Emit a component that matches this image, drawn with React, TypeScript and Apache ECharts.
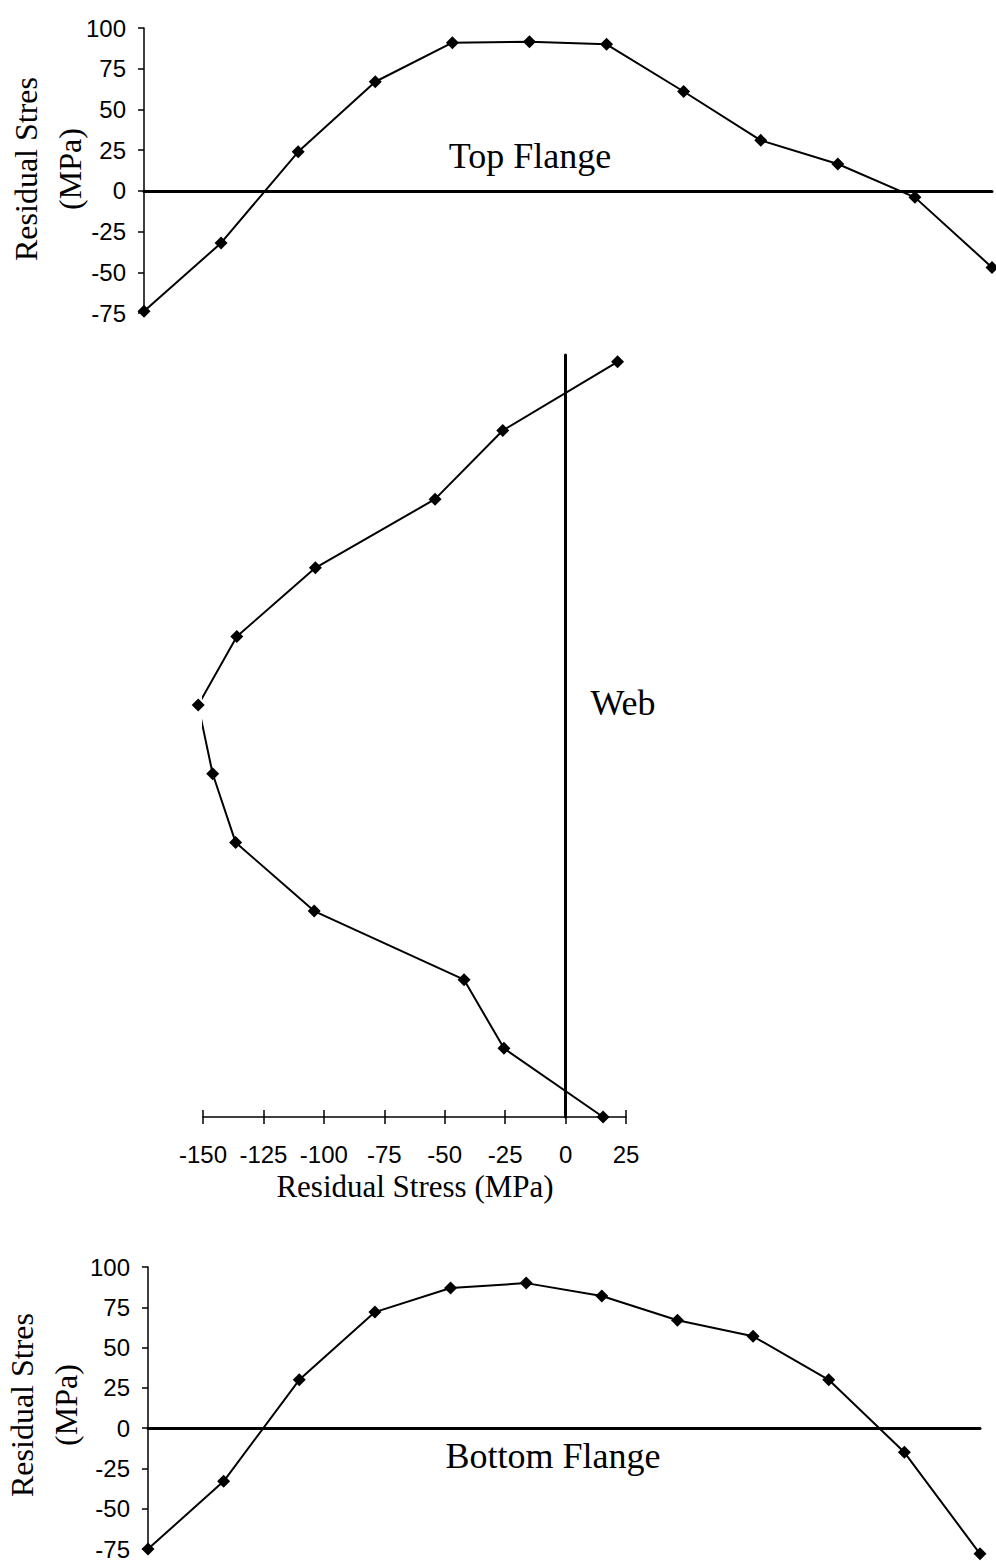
import React, { useEffect, useRef } from "react";
import * as echarts from "echarts";

// Flange measurement positions (evenly spaced across the flange width)
const flangePositions = [0, 1, 2, 3, 4, 5, 6, 7, 8, 9, 10, 11];
// Residual stress (MPa) along the top flange
const topFlangeStress = [-74, -32, 24, 67, 91, 91.5, 90, 61, 31, 16.5, -4, -47];
// Residual stress (MPa) along the bottom flange
const bottomFlangeStress = [-75, -33, 30, 72, 87, 90, 82, 67, 57, 30, -15, -78];
// Web measurement positions (top of web = 11, bottom = 0)
const webDepth = [11, 10, 9, 8, 7, 6, 5, 4, 3, 2, 1, 0];
// Residual stress (MPa) along the web
const webStress = [21.5, -26, -54, -103.5, -136, -152, -146, -136.5, -104, -42, -25.5, 15.5];

const flangeAxisMin = -75;
const flangeAxisMax = 100;
const flangeAxisStep = 25;
const webAxisMin = -150;
const webAxisMax = 25;
const webAxisStep = 25;

const SERIF = "'Liberation Serif', 'Times New Roman', serif";
const SANS = "'Liberation Sans', Arial, sans-serif";

export default function App() {
  const ref = useRef<HTMLDivElement>(null);

  useEffect(() => {
    if (!ref.current) return;
    const chart = echarts.init(ref.current, undefined, { renderer: "svg" });

    const flangeY = (gridIndex: number) => ({
      type: "value" as const,
      gridIndex,
      min: flangeAxisMin,
      max: flangeAxisMax,
      interval: flangeAxisStep,
      axisLine: { show: true, onZero: false, lineStyle: { color: "#000", width: 1.5 } },
      axisTick: { show: true, length: 6, lineStyle: { color: "#000", width: 1.5 } },
      axisLabel: { color: "#000", fontSize: 24, fontFamily: SANS, margin: 18 },
      splitLine: { show: false },
    });

    const flangeX = (gridIndex: number) => ({
      type: "value" as const,
      gridIndex,
      min: 0,
      max: 11,
      axisLine: { show: true, onZero: true, lineStyle: { color: "#000", width: 3 } },
      axisTick: { show: false },
      axisLabel: { show: false },
      splitLine: { show: false },
    });

    const lineStyleCommon = {
      type: "line" as const,
      symbol: "diamond",
      symbolSize: 13,
      clip: false,
      itemStyle: { color: "#000" },
      lineStyle: { color: "#000", width: 2 },
    };

    chart.setOption({
      animation: false,
      backgroundColor: "#fff",
      grid: [
        { left: 144, top: 28, width: 848, height: 285 },
        { left: 203, top: 355, width: 423, height: 762 },
        { left: 148, top: 1267, width: 832, height: 283 },
      ],
      xAxis: [
        flangeX(0),
        {
          type: "value",
          gridIndex: 1,
          position: "bottom",
          min: webAxisMin,
          max: webAxisMax,
          interval: webAxisStep,
          axisLine: { show: true, onZero: false, lineStyle: { color: "#000", width: 1.5 } },
          axisTick: { show: true, length: 7, lineStyle: { color: "#000", width: 1.5 } },
          axisLabel: { color: "#000", fontSize: 24, fontFamily: SANS, margin: 25 },
          splitLine: { show: false },
        },
        {
          type: "value",
          gridIndex: 1,
          position: "bottom",
          min: webAxisMin,
          max: webAxisMax,
          interval: webAxisStep,
          axisLine: { show: false, onZero: false },
          axisTick: { show: true, inside: true, length: 7, lineStyle: { color: "#000", width: 1.5 } },
          axisLabel: { show: false },
          splitLine: { show: false },
        },
        flangeX(2),
      ],
      yAxis: [
        flangeY(0),
        {
          type: "value",
          gridIndex: 1,
          min: 0,
          max: 11.1,
          axisLine: { show: true, onZero: true, lineStyle: { color: "#000", width: 3 } },
          axisTick: { show: false },
          axisLabel: { show: false },
          splitLine: { show: false },
        },
        flangeY(2),
      ],
      series: [
        {
          ...lineStyleCommon,
          name: "Top Flange",
          xAxisIndex: 0,
          yAxisIndex: 0,
          data: flangePositions.map((p, i) => [p, topFlangeStress[i]]),
        },
        {
          ...lineStyleCommon,
          name: "Web",
          xAxisIndex: 1,
          yAxisIndex: 1,
          data: webDepth.map((d, i) => [webStress[i], d]),
        },
        {
          ...lineStyleCommon,
          name: "Bottom Flange",
          xAxisIndex: 3,
          yAxisIndex: 2,
          data: flangePositions.map((p, i) => [p, bottomFlangeStress[i]]),
        },
      ],
      graphic: [
        {
          type: "text",
          x: 530,
          y: 156,
          style: { text: "Top Flange", font: `36px ${SERIF}`, fill: "#000", textAlign: "center", textVerticalAlign: "middle" },
        },
        {
          type: "text",
          x: 623,
          y: 703,
          style: { text: "Web", font: `36px ${SERIF}`, fill: "#000", textAlign: "center", textVerticalAlign: "middle" },
        },
        {
          type: "text",
          x: 553,
          y: 1456,
          style: { text: "Bottom Flange", font: `36px ${SERIF}`, fill: "#000", textAlign: "center", textVerticalAlign: "middle" },
        },
        {
          type: "text",
          x: 415,
          y: 1186,
          style: { text: "Residual Stress (MPa)", font: `31px ${SERIF}`, fill: "#000", textAlign: "center", textVerticalAlign: "middle" },
        },
        {
          type: "text",
          x: 26,
          y: 169,
          rotation: Math.PI / 2,
          style: { text: "Residual Stres", font: `32px ${SERIF}`, fill: "#000", textAlign: "center", textVerticalAlign: "middle" },
        },
        {
          type: "text",
          x: 70,
          y: 169,
          rotation: Math.PI / 2,
          style: { text: "(MPa)", font: `32px ${SERIF}`, fill: "#000", textAlign: "center", textVerticalAlign: "middle" },
        },
        {
          type: "text",
          x: 22,
          y: 1405,
          rotation: Math.PI / 2,
          style: { text: "Residual Stres", font: `32px ${SERIF}`, fill: "#000", textAlign: "center", textVerticalAlign: "middle" },
        },
        {
          type: "text",
          x: 66,
          y: 1405,
          rotation: Math.PI / 2,
          style: { text: "(MPa)", font: `32px ${SERIF}`, fill: "#000", textAlign: "center", textVerticalAlign: "middle" },
        },
      ],
    });

    return () => chart.dispose();
  }, []);

  return (
    <div
      ref={ref}
      style={{ position: "absolute", left: 0, top: 0, width: 996, height: 1561, background: "#fff" }}
    />
  );
}
